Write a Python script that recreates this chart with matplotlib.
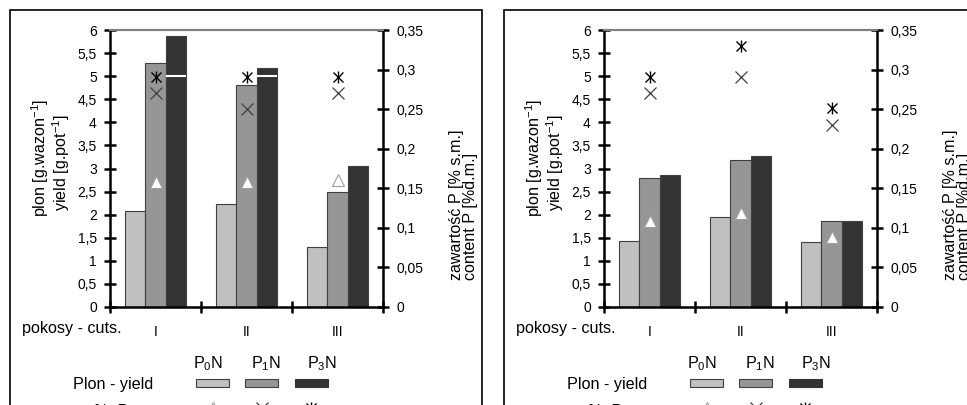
import numpy as np
import matplotlib
matplotlib.use('Agg')
from matplotlib import pyplot as plt
from matplotlib.patches import Rectangle
from matplotlib.lines import Line2D

plt.rcParams['font.family'] = ['Liberation Sans', 'DejaVu Sans']
plt.rcParams['font.size'] = 10
plt.rcParams['mathtext.fontset'] = 'custom'
plt.rcParams['mathtext.rm'] = 'Liberation Sans'

W, H = 967, 405
FS = 11.6  # titles / legend text

cuts = ['I', 'II', 'III']
series = ['P$_0$N', 'P$_1$N', 'P$_3$N']

# left chart - yield [g/pot]
yield_a_p0 = [2.08, 2.23, 1.29]
yield_a_p1 = [5.28, 4.80, 2.49]
yield_a_p3 = [5.87, 5.17, 3.05]
# left chart - P content [% d.m.]
cont_a_p0 = [0.158, 0.158, 0.160]
cont_a_p1 = [0.271, 0.250, 0.271]
cont_a_p3 = [0.291, 0.291, 0.291]

# right chart
yield_b_p0 = [1.44, 1.96, 1.41]
yield_b_p1 = [2.79, 3.19, 1.86]
yield_b_p3 = [2.86, 3.26, 1.87]
cont_b_p0 = [0.109, 0.119, 0.089]
cont_b_p1 = [0.270, 0.290, 0.230]
cont_b_p3 = [0.290, 0.330, 0.251]

yticks_left = np.arange(0, 6.01, 0.5)
yticks_right = np.arange(0, 0.351, 0.05)

bar_cols = ['#c0c0c0', '#969696', '#333333']


def fx(px):
    return px / W


def fy(py):
    return 1 - py / H


def comma(v):
    s = ('%.2f' % v).rstrip('0').rstrip('.')
    return s.replace('.', ',')


def panel(off, y0, y1, y3, c0, c1, c3):
    # frame around the chart
    fig.add_artist(Rectangle((fx(10 + off), -0.1), fx(472), fy(10) + 0.1,
                             transform=fig.transFigure, fill=False,
                             ec='black', lw=1.2, clip_on=False))

    ax = fig.add_axes([fx(110 + off), fy(307), fx(273), (307 - 30) / H])
    ax2 = ax.twinx()
    x = np.arange(len(cuts))
    w = 0.22
    for i, vals in enumerate([y0, y1, y3]):
        ax.bar(x + (i - 1) * w, vals, w, color=bar_cols[i],
               edgecolor='#404040', lw=0.8, zorder=2)
    # white line across tall P3N bars
    for xi, v in zip(x, y3):
        if v > 5:
            ax.hlines(5, xi + w / 2, xi + 1.5 * w, color='white', lw=1.5, zorder=3)

    ax2.plot(x, c0, ls='none', marker='^', ms=8.5, mfc='white', mec='#a0a0a0', mew=0.8, zorder=4)
    ax2.plot(x, c1, ls='none', marker='x', ms=8.5, mec='#404040', mew=0.9, zorder=4)
    ax2.plot(x, c3, ls='none', marker='x', ms=6.5, mec='black', mew=1.0, zorder=4)
    ax2.plot(x, c3, ls='none', marker='|', ms=9, mec='black', mew=1.0, zorder=4)

    ax.set_xlim(-0.5, 2.5)
    ax.set_ylim(0, 6)
    ax2.set_ylim(0, 0.35)
    ax.set_yticks(yticks_left)
    ax.set_yticklabels([comma(v) for v in yticks_left])
    ax2.set_yticks(yticks_right)
    ax2.set_yticklabels([comma(v) for v in yticks_right])

    ax.set_xticks([-0.5, 0.5, 1.5, 2.5])
    ax.set_xticklabels([])
    ax.set_xticks(x, minor=True)
    ax.set_xticklabels(cuts, minor=True)
    ax.tick_params(axis='x', which='minor', length=0, pad=13)
    ax.tick_params(axis='x', which='major', direction='inout', length=9, width=1.8)
    ax.tick_params(axis='y', direction='inout', length=9, width=1.8, pad=5)
    ax2.tick_params(axis='y', direction='inout', length=9, width=1.8, pad=5)

    for a in (ax, ax2):
        a.spines['top'].set_color('#808080')
        a.spines['top'].set_linewidth(1.5)
        for s in ('left', 'right', 'bottom'):
            a.spines[s].set_linewidth(1.8)
    ax.spines['right'].set_visible(False)
    ax2.spines['left'].set_visible(False)
    ax2.spines['bottom'].set_visible(False)

    fig.text(fx(122 + off), fy(328), 'pokosy - cuts.', ha='right', va='center', fontsize=FS)

    fig.text(fx(40 + off), fy(158), 'plon [g.wazon$^{\\mathregular{-1}}$]',
             rotation=90, ha='center', va='center', fontsize=FS)
    fig.text(fx(61 + off), fy(163), 'yield [g.pot$^{\\mathregular{-1}}$]',
             rotation=90, ha='center', va='center', fontsize=FS)
    fig.text(fx(456 + off), fy(205), 'zawartość P [% s.m.]',
             rotation=90, ha='center', va='center', fontsize=FS)
    fig.text(fx(470 + off), fy(216), 'content P [%d.m.]',
             rotation=90, ha='center', va='center', fontsize=FS)

    # legend block
    hx = [208, 266, 322]
    px = [196, 245, 295]
    for i, name in enumerate(series):
        fig.text(fx(hx[i] + off), fy(364), name, ha='center', va='center', fontsize=FS)
        fig.add_artist(Rectangle((fx(px[i] + off), fy(387)), fx(33), 8 / H,
                                 transform=fig.transFigure, fc=bar_cols[i],
                                 ec='#404040' if i < 2 else bar_cols[i], lw=0.8))
    fig.text(fx(153 + off), fy(384), 'Plon - yield', ha='right', va='center', fontsize=FS)
    fig.text(fx(128 + off), fy(411), '%  P', ha='right', va='center', fontsize=FS)
    my = fy(408)
    fig.add_artist(Line2D([fx(213 + off)], [my], ls='none', marker='^', ms=8.5,
                          mfc='white', mec='#a0a0a0', mew=0.8, transform=fig.transFigure))
    fig.add_artist(Line2D([fx(262 + off)], [my], ls='none', marker='x', ms=8.5,
                          mec='#404040', mew=0.9, transform=fig.transFigure))
    fig.add_artist(Line2D([fx(311 + off)], [my], ls='none', marker='x', ms=6.5,
                          mec='black', mew=1.0, transform=fig.transFigure))
    fig.add_artist(Line2D([fx(311 + off)], [my], ls='none', marker='|', ms=9,
                          mec='black', mew=1.0, transform=fig.transFigure))


fig = plt.figure(figsize=(W / 100, H / 100), dpi=100)
panel(0, yield_a_p0, yield_a_p1, yield_a_p3, cont_a_p0, cont_a_p1, cont_a_p3)
panel(494, yield_b_p0, yield_b_p1, yield_b_p3, cont_b_p0, cont_b_p1, cont_b_p3)
fig.savefig('out.png', dpi=100)
